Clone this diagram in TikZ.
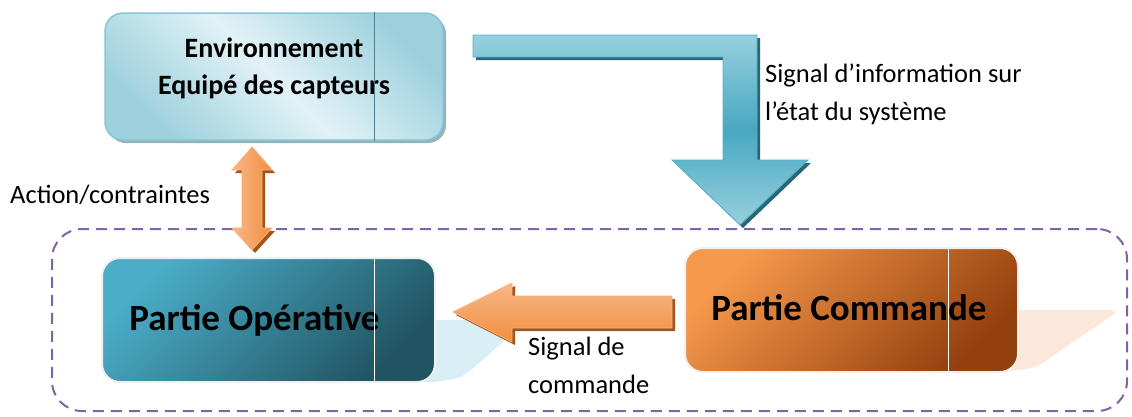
\documentclass[tikz,border=0pt]{standalone}
\usepackage{fontspec}
\setmainfont{Carlito}
\usepackage{xcolor}
\usetikzlibrary{arrows.meta,shapes,calc,shadows}

\definecolor{envlight}{HTML}{E2F2F6}
\definecolor{envdark}{HTML}{9DD1DE}
\definecolor{envedge}{HTML}{88C6D5}
\definecolor{envline}{HTML}{4F7E8C}
\definecolor{oplight}{HTML}{4BADC8}
\definecolor{opdark}{HTML}{205462}
\definecolor{cmdlight}{HTML}{F6994C}
\definecolor{cmddark}{HTML}{93400D}
\definecolor{oplow}{HTML}{DAEFF5}
\definecolor{cmdlow}{HTML}{FCE8DA}
\definecolor{sigtop}{HTML}{97D0DD}
\definecolor{sigmid}{HTML}{48A8C1}
\definecolor{sigedge}{HTML}{52B1C8}
\definecolor{sigshade}{HTML}{2A6676}
\definecolor{acttop}{HTML}{F8B789}
\definecolor{actmain}{HTML}{F28F3D}
\definecolor{actedge}{HTML}{F7B17B}
\definecolor{actshade}{HTML}{A4541B}
\definecolor{grpcolor}{HTML}{8064A2}

\begin{document}
\begin{tikzpicture}[x=1pt,y=-1pt]
  \tikzset{box/.style = {rounded corners=18pt, minimum width=333pt, minimum height=124pt, inner sep=0pt}}
  \tikzset{title/.style = {font=\fontsize{37}{44}\selectfont\bfseries, inner sep=0pt, anchor=base}}
  \tikzset{lbl/.style = {font=\fontsize{26.5}{37.5}\selectfont, inner sep=0pt, anchor=base west, align=left}}
  \tikzset{castshadow/.style = {preaction={fill=#1, transform canvas={shift={(3,3)}}}}}

  \useasboundingbox (0,0) rectangle (1132,416);

  % frame round the two parts
  \node[draw=grpcolor, line width=2pt, dash pattern=on 11pt off 7pt, rounded corners=30pt,
        minimum width=1075pt, minimum height=182pt] (grp) at (589.5,320) {};

  % flat shadows behind the parts
  \fill[oplow, rounded corners=10pt] (420,320) -- (528,320) -- (462,378) -- (420,384) -- cycle;
  \fill[cmdlow, rounded corners=10pt] (1000,310) -- (1120,310) -- (1035,368) -- (1000,372) -- cycle;

  % boxes
  \node[box, minimum width=338pt, minimum height=127pt, draw=envedge, line width=1.5pt,
        drop shadow={shadow xshift=3pt, shadow yshift=-3pt, fill=envline, opacity=.6},
        top color=envdark, bottom color=envdark, middle color=envlight, shading angle=-45] (env) at (274,76.5) {};
  \node[box, draw=black!6, line width=2pt, top color=oplight, bottom color=opdark, shading angle=45] (po) at (268.5,320) {};
  \node[box, draw=black!6, line width=2pt, top color=cmdlight, bottom color=cmddark, shading angle=45] (pc) at (851.5,310) {};

  % box texts (base = last line)
  \node[title, font=\fontsize{28}{37}\selectfont\bfseries, align=center] (envtxt) at (274,94) {Environnement\\Equipé des capteurs};
  \node[title] (potxt) at (254.5,330) {Partie Opérative};
  \node[title] (pctxt) at (849,320) {Partie Commande};

  % separators
  \draw[envline, line width=0.8pt] ([xshift=100]env.north) -- ([xshift=100]env.south);
  \foreach \b/\d in {po/105.5, pc/96.5}
    \draw[white, line width=0.8pt] ([xshift=\d]\b.north) -- ([xshift=\d]\b.south);

  % block arrows
  \path[castshadow=sigshade, draw=sigedge, line width=0.8pt, top color=sigtop, bottom color=sigtop, middle color=sigmid]
    (473,35) -- (757,35) -- (757,160) -- (808,160) -- (740,225) -- (672,160) -- (723,160) -- (723,57) -- (473,57) -- cycle;
  \path[castshadow=actshade, draw=actedge, line width=0.8pt, left color=acttop, right color=actmain]
    (252,147) -- (272,170) -- (262,170) -- (262,228) -- (272,228) -- (252,250) -- (232,228) -- (242,228) -- (242,170) -- (232,170) -- cycle;
  \path[castshadow=actshade, draw=actedge, line width=0.8pt, top color=acttop, bottom color=actmain]
    (453,312) -- (512,283) -- (512,296) -- (672,296) -- (672,328) -- (512,328) -- (512,342) -- cycle;

  % labels
  \node[lbl] (info) at (765,120) {Signal d’information sur\\l’état du système};
  \node[lbl] (act) at (10,203) {Action/contraintes};
  \node[lbl] (cmd) at (528,393) {Signal de\\commande};
\end{tikzpicture}
\end{document}
